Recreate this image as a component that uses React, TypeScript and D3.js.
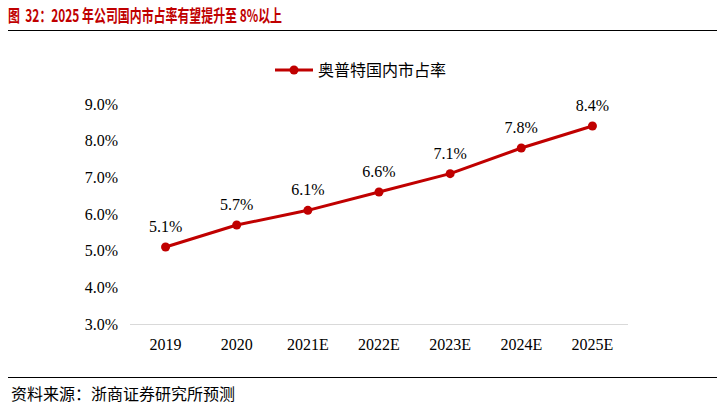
import { useEffect, useRef } from 'react';
import * as d3 from 'd3';

const years = ['2019', '2020', '2021E', '2022E', '2023E', '2024E', '2025E'];
const share = [5.1, 5.7, 6.1, 6.6, 7.1, 7.8, 8.4];
const yTicks = [3, 4, 5, 6, 7, 8, 9];
const seriesName = '奥普特国内市占率';
const title = '图  32：2025 年公司国内市占率有望提升至 8%以上';
const source = '资料来源：浙商证券研究所预测';

const W = 719;
const H = 411;
const red = '#c00000';
const serif = '"Liberation Serif", "Times New Roman", serif';
const cjk = '"Noto Sans CJK SC", sans-serif';

export default function App() {
    const svgRef = useRef<SVGSVGElement>(null);

    useEffect(() => {
        if (!svgRef.current) return;
        const svg = d3.select(svgRef.current);
        svg.selectAll('*').remove();

        const x = d3.scaleBand<string>().domain(years).range([130, 628]);
        const y = d3.scaleLinear().domain([3, 9]).range([324, 104]);
        const cx = (d: string) => (x(d) ?? 0) + x.bandwidth() / 2;

        // header
        svg.append('text')
            .attr('x', 8).attr('y', 22)
            .attr('font-family', cjk).attr('font-weight', 'bold')
            .attr('font-size', 17.5).attr('fill', red)
            .attr('xml:space', 'preserve')
            .attr('textLength', 274).attr('lengthAdjust', 'spacingAndGlyphs')
            .text(title);
        svg.append('line')
            .attr('x1', 8).attr('x2', 717).attr('y1', 30.5).attr('y2', 30.5)
            .attr('stroke', '#000').attr('stroke-width', 1.2);

        // y labels
        svg.selectAll('.ylbl')
            .data(yTicks)
            .join('text')
            .attr('class', 'ylbl')
            .attr('x', 118).attr('y', d => y(d) + 5.5)
            .attr('text-anchor', 'end')
            .attr('font-family', serif).attr('font-size', 16).attr('fill', '#000')
            .text(d => `${d.toFixed(1)}%`);

        // baseline
        svg.append('line')
            .attr('x1', 130).attr('x2', 628).attr('y1', y(3) + 0.5).attr('y2', y(3) + 0.5)
            .attr('stroke', '#d9d9d9').attr('stroke-width', 1);

        // x labels
        svg.selectAll('.xlbl')
            .data(years)
            .join('text')
            .attr('class', 'xlbl')
            .attr('x', d => cx(d)).attr('y', 350)
            .attr('text-anchor', 'middle')
            .attr('font-family', serif).attr('font-size', 16).attr('fill', '#000')
            .text(d => d);

        // line
        const line = d3.line<number>()
            .x((_, i) => cx(years[i]))
            .y(d => y(d));
        svg.append('path')
            .datum(share)
            .attr('d', line)
            .attr('fill', 'none').attr('stroke', red).attr('stroke-width', 3)
            .attr('stroke-linejoin', 'round');

        svg.selectAll('.pt')
            .data(share)
            .join('circle')
            .attr('class', 'pt')
            .attr('cx', (_, i) => cx(years[i])).attr('cy', d => y(d))
            .attr('r', 4.5).attr('fill', red);

        svg.selectAll('.vlbl')
            .data(share)
            .join('text')
            .attr('class', 'vlbl')
            .attr('x', (_, i) => cx(years[i])).attr('y', d => y(d) - 15)
            .attr('text-anchor', 'middle')
            .attr('font-family', serif).attr('font-size', 16).attr('fill', '#000')
            .text(d => `${d.toFixed(1)}%`);

        // legend
        const lg = svg.append('g').attr('transform', 'translate(275,70)');
        lg.append('line').attr('x1', 0).attr('x2', 38).attr('y1', 0).attr('y2', 0)
            .attr('stroke', red).attr('stroke-width', 3);
        lg.append('circle').attr('cx', 19).attr('cy', 0).attr('r', 4.5).attr('fill', red);
        lg.append('text').attr('x', 43).attr('y', 5.5)
            .attr('font-family', cjk).attr('font-size', 16).attr('fill', '#000')
            .text(seriesName);

        // footer
        svg.append('line')
            .attr('x1', 8).attr('x2', 717).attr('y1', 377.5).attr('y2', 377.5)
            .attr('stroke', '#000').attr('stroke-width', 1.2);
        svg.append('text')
            .attr('x', 11).attr('y', 400)
            .attr('font-family', cjk).attr('font-size', 16).attr('fill', '#000')
            .text(source);
    }, []);

    return (
        <svg ref={svgRef} width={W} height={H}
            style={{ position: 'absolute', left: 0, top: 0, background: '#fff' }} />
    );
}
